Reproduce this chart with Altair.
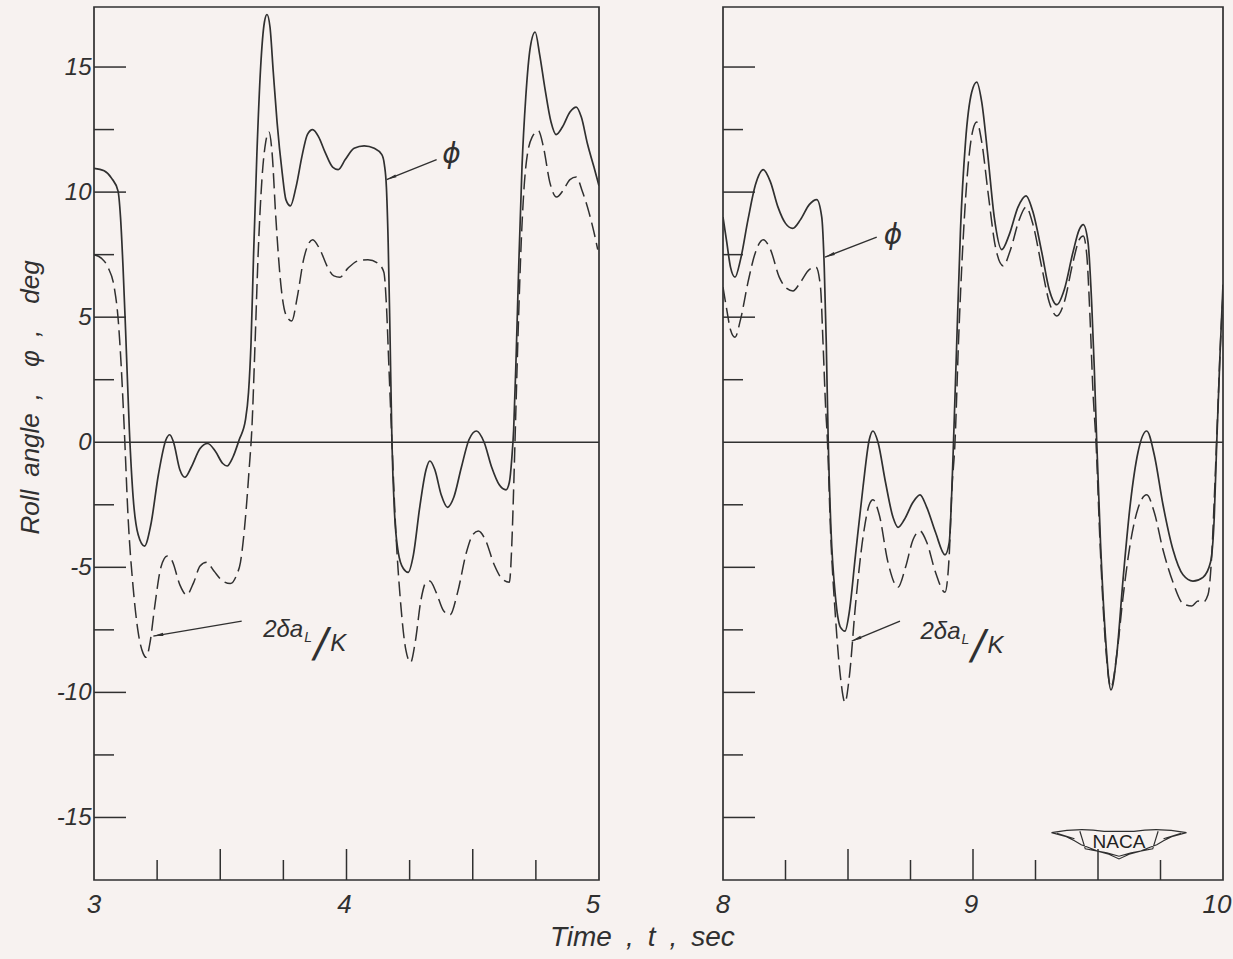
import altair as alt
import pandas as pd

FONT = "Liberation Sans"
INK = "#303030"
BG = "#f7f2f0"

# ---------------- panel A : t = 3 .. 5 s ----------------
t_phi_a = [3.000, 3.040, 3.070, 3.095, 3.105, 3.115, 3.125, 3.140, 3.155, 3.175,
           3.200, 3.225, 3.255, 3.285, 3.300, 3.315, 3.340, 3.360, 3.385, 3.420,
           3.450, 3.480, 3.510, 3.527, 3.550, 3.575, 3.600, 3.612, 3.622, 3.632,
           3.645, 3.660, 3.675, 3.685, 3.697, 3.710, 3.725, 3.745, 3.760, 3.778,
           3.800, 3.825, 3.845, 3.866, 3.890, 3.915, 3.945, 3.967, 3.995, 4.030,
           4.070, 4.110, 4.140, 4.150, 4.158, 4.165, 4.172, 4.180, 4.190, 4.205,
           4.225, 4.244, 4.265, 4.290, 4.315, 4.330, 4.350, 4.375, 4.400, 4.425,
           4.455, 4.485, 4.515, 4.545, 4.575, 4.605, 4.632, 4.645, 4.655, 4.662,
           4.672, 4.682, 4.695, 4.710, 4.728, 4.747, 4.765, 4.785, 4.810, 4.830,
           4.855, 4.885, 4.910, 4.930, 4.955, 4.980, 5.000]
phi_a = [10.95, 10.85, 10.55, 10.05, 9.0, 7.0, 4.5, 0.5, -2.2, -3.7,
         -4.15, -3.3, -1.3, 0.1, 0.3, 0.0, -1.1, -1.4, -1.0, -0.25,
         -0.05, -0.35, -0.85, -0.95, -0.6, 0.1, 0.9, 2.0, 4.0, 7.5,
         11.5, 15.0, 16.8, 17.1, 16.6, 14.8, 12.8, 10.8, 9.7, 9.45,
         10.2, 11.5, 12.3, 12.5, 12.2, 11.6, 11.0, 10.9, 11.3, 11.75,
         11.85, 11.75, 11.5, 11.1, 10.2, 8.0, 4.5, 0.0, -2.8, -4.4,
         -5.05, -5.2, -4.5, -2.6, -1.1, -0.75, -1.1, -2.1, -2.6, -2.2,
         -1.0, 0.1, 0.45, 0.0, -1.0, -1.7, -1.9, -1.6, -0.6, 0.5,
         3.5, 7.0, 11.0, 13.8, 15.8, 16.4, 15.5, 14.2, 12.8, 12.3,
         12.6, 13.2, 13.4, 13.0, 11.9, 11.0, 10.25]

t_dal_a = [3.000, 3.030, 3.055, 3.080, 3.095, 3.108, 3.120, 3.135, 3.155, 3.175,
           3.195, 3.207, 3.222, 3.240, 3.265, 3.290, 3.310, 3.340, 3.367, 3.395,
           3.420, 3.446, 3.475, 3.510, 3.540, 3.565, 3.580, 3.600, 3.615, 3.625,
           3.638, 3.650, 3.665, 3.680, 3.693, 3.705, 3.720, 3.740, 3.760, 3.783,
           3.805, 3.830, 3.866, 3.895, 3.925, 3.950, 3.974, 4.005, 4.045, 4.085,
           4.125, 4.148, 4.158, 4.168, 4.180, 4.195, 4.215, 4.235, 4.254, 4.272,
           4.295, 4.315, 4.330, 4.355, 4.385, 4.410, 4.440, 4.475, 4.500, 4.522,
           4.550, 4.585, 4.615, 4.645, 4.655, 4.663, 4.670, 4.680, 4.692, 4.710,
           4.735, 4.760, 4.780, 4.805, 4.832, 4.860, 4.885, 4.910, 4.935, 4.960,
           4.980, 4.995]
dal_a = [7.5, 7.35, 7.0, 6.2, 5.0, 3.0, 0.5, -3.0, -5.8, -7.6,
         -8.45, -8.6, -8.0, -6.6, -5.0, -4.55, -4.75, -5.7, -6.1, -5.6,
         -4.95, -4.8, -5.15, -5.55, -5.65, -5.3, -4.8, -3.0, -1.0, 0.5,
         4.0, 7.5, 10.5, 12.0, 12.4, 11.6, 9.0, 6.3, 5.1, 4.85,
         5.8, 7.3, 8.1, 7.7, 7.0, 6.65, 6.6, 6.95, 7.25, 7.3,
         7.15, 6.8, 5.5, 3.0, 0.0, -3.5, -6.5, -8.3, -8.8, -8.0,
         -6.3, -5.6, -5.55, -6.0, -6.75, -6.9, -6.0, -4.4, -3.7, -3.55,
         -3.9, -4.9, -5.45, -5.6, -4.0, -1.5, 1.0, 4.5, 8.0, 11.0,
         12.2, 12.45, 11.8, 10.4, 9.8, 10.1, 10.5, 10.6, 10.0, 9.2,
         8.4, 7.7]

# ---------------- panel B : t = 8 .. 10 s ----------------
t_phi_b = [8.000, 8.015, 8.030, 8.048, 8.070, 8.100, 8.130, 8.161, 8.190, 8.220,
           8.250, 8.279, 8.310, 8.345, 8.375, 8.395, 8.405, 8.413, 8.421, 8.432,
           8.450, 8.470, 8.488, 8.505, 8.530, 8.560, 8.585, 8.600, 8.620, 8.650,
           8.680, 8.700, 8.725, 8.760, 8.788, 8.815, 8.850, 8.888, 8.905, 8.915,
           8.922, 8.935, 8.950, 8.970, 8.995, 9.015, 9.035, 9.060, 9.085, 9.115,
           9.145, 9.180, 9.212, 9.240, 9.275, 9.305, 9.335, 9.365, 9.400, 9.425,
           9.441, 9.460, 9.475, 9.485, 9.495, 9.510, 9.530, 9.552, 9.575, 9.600,
           9.630, 9.660, 9.695, 9.725, 9.760, 9.800, 9.840, 9.880, 9.920, 9.950,
           9.965, 9.975, 9.988, 10.000]
phi_b = [9.0, 8.0, 7.0, 6.6, 7.3, 8.9, 10.3, 10.9, 10.4, 9.4,
         8.75, 8.55, 8.9, 9.5, 9.7, 9.0, 7.0, 4.0, 0.0, -3.5,
         -6.2, -7.4, -7.55, -6.8, -4.5, -1.8, 0.1, 0.45, 0.0, -1.6,
         -3.0, -3.4, -3.1, -2.4, -2.1, -2.6, -3.6, -4.5, -4.0, -2.0,
         0.0, 4.0, 8.5, 12.0, 14.0, 14.4, 13.6, 11.4, 9.0, 7.7,
         8.3, 9.4, 9.85, 9.2, 7.6, 6.1, 5.5, 6.1, 7.6, 8.5,
         8.7, 8.0, 5.5, 3.0, 0.0, -4.0, -7.8, -9.9, -8.5, -5.5,
         -2.4, -0.4, 0.45, -0.5, -2.5, -4.3, -5.3, -5.55, -5.4, -4.8,
         -3.0, 0.0, 3.5, 6.3]

t_dal_b = [8.000, 8.015, 8.030, 8.048, 8.070, 8.100, 8.130, 8.161, 8.190, 8.225,
           8.255, 8.280, 8.310, 8.345, 8.372, 8.390, 8.400, 8.410, 8.418, 8.430,
           8.450, 8.470, 8.488, 8.505, 8.530, 8.560, 8.585, 8.600, 8.625, 8.660,
           8.700, 8.730, 8.760, 8.788, 8.815, 8.850, 8.888, 8.905, 8.915, 8.928,
           8.942, 8.960, 8.980, 9.000, 9.015, 9.035, 9.060, 9.090, 9.121, 9.150,
           9.185, 9.212, 9.240, 9.275, 9.305, 9.335, 9.365, 9.400, 9.425, 9.441,
           9.455, 9.468, 9.480, 9.492, 9.508, 9.528, 9.552, 9.575, 9.600, 9.630,
           9.665, 9.695, 9.725, 9.760, 9.800, 9.840, 9.875, 9.900, 9.920, 9.940,
           9.955, 9.965, 9.980, 9.990, 10.000]
dal_b = [6.2, 5.3, 4.5, 4.2, 4.9, 6.4, 7.6, 8.1, 7.7, 6.6,
         6.15, 6.05, 6.4, 6.9, 7.0, 6.2, 4.0, 1.5, 0.0, -3.5,
         -7.0, -9.4, -10.4, -9.4, -6.5, -3.8, -2.5, -2.3, -2.9, -4.8,
         -5.8, -5.0, -3.9, -3.55, -4.0, -5.2, -6.0, -4.5, -2.0, 0.0,
         4.0, 8.0, 11.0, 12.5, 12.8, 12.0, 10.0, 7.8, 7.05, 7.7,
         8.9, 9.4, 8.7, 7.0, 5.6, 5.05, 5.6, 7.2, 8.1, 8.25,
         7.5, 5.0, 2.0, 0.0, -4.0, -7.8, -9.8, -8.5, -6.2, -4.0,
         -2.5, -2.1, -2.8, -4.3, -5.6, -6.45, -6.55, -6.35, -6.4, -6.1,
         -4.5, -2.3, 1.5, 4.0, 5.9]

# ---------------- axes / ticks ----------------
y_labels = [-15, -10, -5, 0, 5, 10, 15]
y_ticks_major = [-15, -10, -5, 5, 10, 15]
y_ticks_minor = [-12.5, -7.5, -2.5, 2.5, 7.5, 12.5]
x_labels_a = [3, 4, 5]
x_major_a = [3.5, 4.0, 4.5]
x_minor_a = [3.25, 3.75, 4.25, 4.75]
x_labels_b = [8, 9, 10]
x_major_b = [8.5, 9.0, 9.5]
x_minor_b = [8.25, 8.75, 9.25, 9.75]

# annotations (arrow tail t0,y0 -> head t1,y1 ; label positions)
ann_a = {"phi": (4.416, 11.5), "arrow_phi": (4.357, 11.3, 4.159, 10.5, 248),
         "dal": (3.67, -7.45), "arrow_dal": (3.585, -7.15, 3.235, -7.75, 260)}
ann_b = {"phi": (8.68, 8.25), "arrow_phi": (8.615, 8.2, 8.408, 7.4, 249),
         "dal": (8.79, -7.55), "arrow_dal": (8.708, -7.15, 8.515, -7.95, 247)}
logo_b = (9.584, -15.93)

W_A, W_B, H = 505, 500, 873
Y_DOMAIN = [-17.5, 17.4]
SP = "\u2002"

ARROW = "M0,0 L0.3,1.9 L-0.3,1.9 Z"
WINGS = ("M-1,-0.12 Q-0.6,-0.2 -0.22,-0.14 L0.22,-0.14 Q0.6,-0.2 1,-0.12 "
         "L0.78,-0.06 L0.66,0.0 L0.56,0.06 L0.45,0.1 L0.33,0.15 L0.15,0.2 L0,0.27 L-0.15,0.2 "
         "L-0.33,0.15 L-0.45,0.1 L-0.56,0.06 L-0.66,0.0 L-0.78,-0.06 Z "
         "M-0.58,-0.14 L-0.5,0.12 L-0.18,0.18 L0,0.23 L0.18,0.18 L0.5,0.12 L0.58,-0.14 "
         "M-0.92,-0.11 L-0.66,-0.03 M0.92,-0.11 L0.66,-0.03")


def panel(xdom, width, t_phi, phi, t_dal, dal, xlabels, xmaj, xmin, ann, show_y, logo=None):
    xs = alt.Scale(domain=xdom, nice=False, zero=False)
    ys = alt.Scale(domain=Y_DOMAIN, nice=False, zero=False)
    if show_y:
        yaxis = alt.Axis(values=y_labels, ticks=False, tickSize=0, domain=False, grid=False,
                         labelFontSize=24, labelFont=FONT, labelFontStyle="italic",
                         labelColor=INK, labelPadding=3, labelFlush=False,
                         labelOverlap=False, format="d",
                         labelExpr="replace(datum.label, '−', '-')",
                         title=f"Roll{SP}angle{SP},\u2003φ{SP},\u2003deg",
                         titleFontSize=26, titleFont=FONT,
                         titleFontStyle="italic", titleFontWeight="normal",
                         titleColor=INK, titlePadding=13, titleY=390)
    else:
        yaxis = None

    def X(f):
        return alt.X(f, scale=xs, axis=None)

    def Y(f):
        return alt.Y(f, scale=ys, axis=yaxis)

    df_phi = pd.DataFrame({"t": t_phi, "v": phi})
    df_dal = pd.DataFrame({"t": t_dal, "v": dal})

    phi_line = alt.Chart(df_phi).mark_line(
        interpolate="monotone", color=INK, strokeWidth=1.7, clip=True
    ).encode(x=X("t:Q"), y=Y("v:Q"))
    dal_line = alt.Chart(df_dal).mark_line(
        interpolate="monotone", color=INK, strokeWidth=1.5, strokeDash=[15, 6], clip=True
    ).encode(x=X("t:Q"), y=Y("v:Q"))

    zero = alt.Chart(pd.DataFrame({"v": [0]})).mark_rule(color=INK, strokeWidth=1.7).encode(
        y=Y("v:Q"))

    ytm = alt.Chart(pd.DataFrame({"v": y_ticks_major})).mark_rule(color=INK, strokeWidth=1.5).encode(
        y=Y("v:Q"), x=alt.value(0), x2=alt.value(32))
    ytn = alt.Chart(pd.DataFrame({"v": y_ticks_minor})).mark_rule(color=INK, strokeWidth=1.5).encode(
        y=Y("v:Q"), x=alt.value(0), x2=alt.value(20))
    xtm = alt.Chart(pd.DataFrame({"t": xmaj})).mark_rule(color=INK, strokeWidth=1.5).encode(
        x=X("t:Q"), y=alt.value(H), y2=alt.value(H - 31))
    xtn = alt.Chart(pd.DataFrame({"t": xmin})).mark_rule(color=INK, strokeWidth=1.5).encode(
        x=X("t:Q"), y=alt.value(H), y2=alt.value(H - 20))

    # x tick labels (drawn as text so every label shows)
    def xlab(vals, dx):
        return alt.Chart(pd.DataFrame({"t": vals})).mark_text(
            font=FONT, fontStyle="italic", fontSize=26, color=INK, align="center",
            baseline="alphabetic", dx=dx
        ).encode(x=X("t:Q"), y=alt.value(H + 33), text=alt.Text("t:Q", format="d"))

    xlabs = [xlab(xlabels[:1], 0), xlab(xlabels[1:-1], -2), xlab(xlabels[-1:], -6)]

    arrows = pd.DataFrame([
        {"t0": a[0], "y0": a[1], "t1": a[2], "y1": a[3], "ang": a[4]}
        for a in (ann["arrow_phi"], ann["arrow_dal"])
    ])
    arrow_lines = alt.Chart(arrows).mark_rule(color=INK, strokeWidth=1.4).encode(
        x=X("t0:Q"), y=Y("y0:Q"), x2="t1:Q", y2="y1:Q")
    arrow_heads = alt.Chart(arrows).mark_point(
        shape=ARROW, filled=True, color=INK, size=110, opacity=1
    ).encode(x=X("t1:Q"), y=Y("y1:Q"), angle=alt.Angle("ang:Q", scale=None))

    phi_df = pd.DataFrame({"t": [ann["phi"][0]], "v": [ann["phi"][1]]})
    phi_txt = alt.Chart(phi_df).mark_text(
        text="ϕ", font="DejaVu Sans", fontSize=28, fontStyle="italic", color=INK,
        align="center", baseline="middle"
    ).encode(x=X("t:Q"), y=Y("v:Q"))

    dal_df = pd.DataFrame({"t": [ann["dal"][0]], "v": [ann["dal"][1]]})

    def piece(txt, size, dx, dy, font=FONT):
        return alt.Chart(dal_df).mark_text(
            text=txt, font=font, fontStyle="italic", fontSize=size, color=INK,
            align="left", baseline="alphabetic", dx=dx, dy=dy
        ).encode(x=X("t:Q"), y=Y("v:Q"))

    dal_txt = [piece("2δa", 24, 0, 8), piece("L", 14, 41, 13),
               piece("/", 40, 51, 28, "DejaVu Sans"), piece("K", 24, 67, 22)]

    layers = [phi_line, dal_line, zero, ytm, ytn, xtm, xtn] + xlabs + [
        arrow_lines, arrow_heads, phi_txt] + dal_txt

    if logo is not None:
        logo_df = pd.DataFrame({"t": [logo[0]], "v": [logo[1]]})
        wings = alt.Chart(logo_df).mark_point(
            shape=WINGS, filled=False, color=INK, strokeWidth=1.2, size=18200, opacity=1
        ).encode(x=X("t:Q"), y=Y("v:Q"))
        naca = alt.Chart(logo_df).mark_text(
            text="NACA", font=FONT, fontSize=19, color="#222222", align="center",
            baseline="middle", dy=1
        ).encode(x=X("t:Q"), y=Y("v:Q"))
        layers += [wings, naca]

    return alt.layer(*layers).properties(width=width, height=H)


left = panel([3, 5], W_A, t_phi_a, phi_a, t_dal_a, dal_a, x_labels_a, x_major_a, x_minor_a,
             ann_a, True)
right = panel([8, 10], W_B, t_phi_b, phi_b, t_dal_b, dal_b, x_labels_b, x_major_b, x_minor_b,
              ann_b, False, logo=logo_b)

chart = alt.hconcat(left, right, spacing=112).properties(
    title=alt.TitleParams(f"Time{SP},{SP}t{SP},{SP}sec", orient="bottom", anchor="middle",
                          fontSize=28, font=FONT, fontStyle="italic", fontWeight="normal",
                          color=INK, offset=5, dx=18),
    padding={"left": 16, "top": 6, "right": 0, "bottom": 8},
    background=BG,
).configure_view(stroke=INK, strokeWidth=1.7)

chart.save("out.html", embed_options={"renderer": "svg", "actions": False})
